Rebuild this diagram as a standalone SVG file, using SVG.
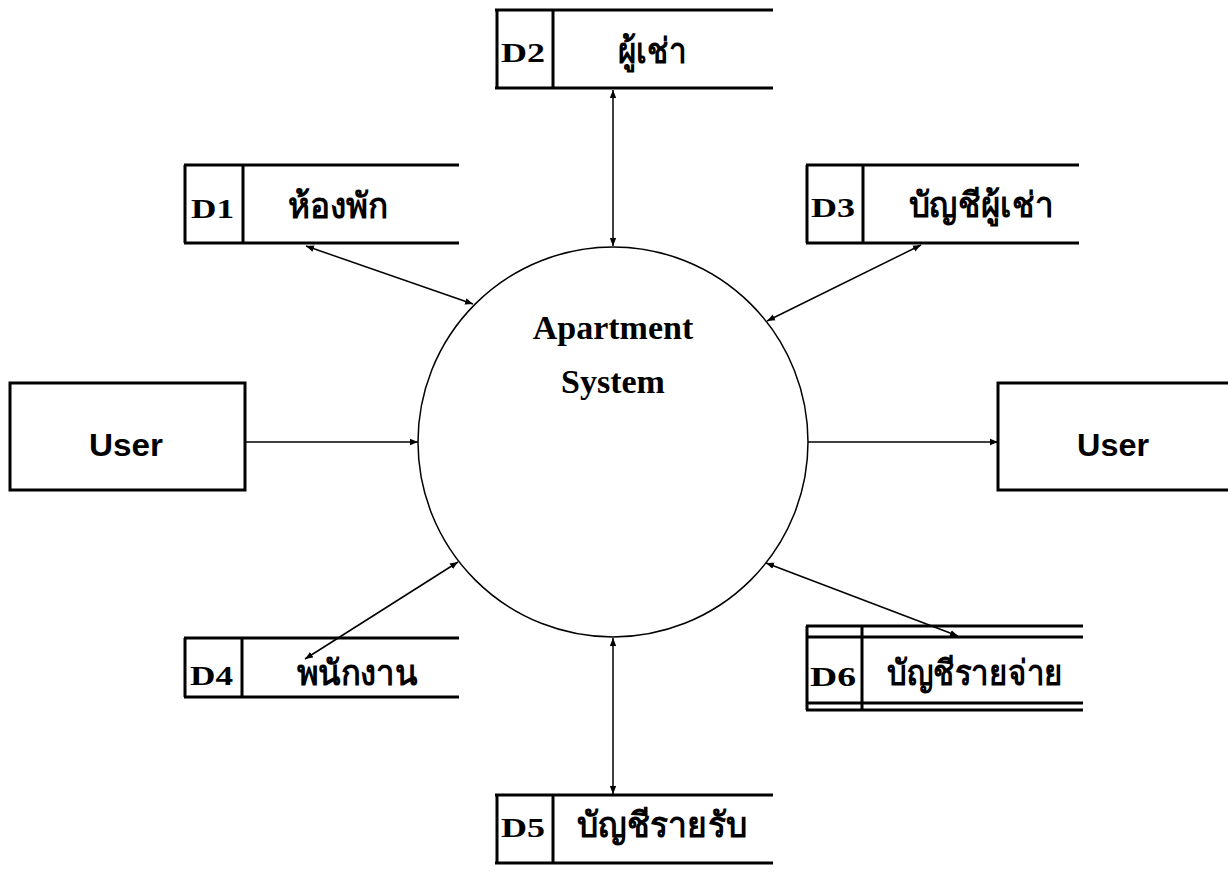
<svg xmlns="http://www.w3.org/2000/svg" width="1228" height="874" viewBox="0 0 1228 874">
<defs>
<marker id="ah" viewBox="0 0 10 10" refX="10" refY="5" markerWidth="8" markerHeight="8" markerUnits="userSpaceOnUse" orient="auto-start-reverse">
<path d="M0,1 L10,5 L0,9 Z" fill="#000"/>
</marker>
<style>
.st{fill:none;stroke:#000;stroke-width:3}
.ent{fill:#fff;stroke:#000;stroke-width:3}
.con{fill:none;stroke:#000;stroke-width:1.5}
.did{font-family:"Liberation Serif",serif;font-weight:bold;font-size:28px;fill:#000}
.th{font-family:"Liberation Serif","Noto Sans","DejaVu Sans",sans-serif;font-weight:bold;font-size:35px;fill:#000;text-anchor:middle}
.usr{font-family:"Liberation Sans",Arial,sans-serif;font-weight:bold;font-size:32px;fill:#000;text-anchor:middle}
.proc{font-family:"Liberation Serif",serif;font-weight:bold;font-size:34px;fill:#000;text-anchor:middle}
</style>
</defs>
<g id="connectors">
<line class="con" x1="613" y1="90" x2="613" y2="246" marker-start="url(#ah)" marker-end="url(#ah)"/>
<line class="con" x1="306" y1="246" x2="473" y2="304" marker-start="url(#ah)" marker-end="url(#ah)"/>
<line class="con" x1="921" y1="245" x2="767" y2="321" marker-start="url(#ah)" marker-end="url(#ah)"/>
<line class="con" x1="245" y1="442" x2="418" y2="442" marker-end="url(#ah)"/>
<line class="con" x1="808" y1="442" x2="998" y2="442" marker-end="url(#ah)"/>
<line class="con" x1="458" y1="562" x2="305" y2="659" marker-start="url(#ah)" marker-end="url(#ah)"/>
<line class="con" x1="766" y1="563" x2="958" y2="636" marker-start="url(#ah)" marker-end="url(#ah)"/>
<line class="con" x1="613" y1="638" x2="613" y2="794" marker-start="url(#ah)" marker-end="url(#ah)"/>
</g>
<g id="process">
<circle cx="613" cy="442" r="195" fill="none" stroke="#000" stroke-width="1.5"/>
<text class="proc" x="613" y="339">Apartment</text>
<text class="proc" x="613" y="393">System</text>
</g>
<g id="user-left">
<rect class="ent" x="10" y="383" width="235" height="107"/>
<text class="usr" x="126" y="456" textLength="74" lengthAdjust="spacingAndGlyphs">User</text>
</g>
<g id="user-right">
<rect class="ent" x="998" y="383" width="235" height="107"/>
<text class="usr" x="1113" y="456" textLength="72" lengthAdjust="spacingAndGlyphs">User</text>
</g>
<g id="d2">
<path class="st" d="M495,10 H773 M497,10 V88 M553,10 V88 M495,88 H773"/>
<text class="did" x="501" y="62" textLength="44" lengthAdjust="spacingAndGlyphs">D2</text>
<text class="th" x="652" y="63" textLength="69" lengthAdjust="spacingAndGlyphs">ผู้เช่า</text>
</g>
<g id="d1">
<path class="st" d="M184,165 H459 M185,165 V243 M243,165 V243 M184,243 H459"/>
<text class="did" x="191" y="218" textLength="43" lengthAdjust="spacingAndGlyphs">D1</text>
<text class="th" x="338" y="218" textLength="100" lengthAdjust="spacingAndGlyphs">ห้องพัก</text>
</g>
<g id="d3">
<path class="st" d="M806,165 H1079 M807,165 V243 M863,165 V243 M806,243 H1079"/>
<text class="did" x="811" y="217" textLength="44" lengthAdjust="spacingAndGlyphs">D3</text>
<text class="th" x="981" y="217" textLength="145" lengthAdjust="spacingAndGlyphs">บัญชีผู้เช่า</text>
</g>
<g id="d4">
<path class="st" d="M184,638 H459 M185,638 V697 M242,638 V697 M184,697 H459"/>
<text class="did" x="190" y="685" textLength="43" lengthAdjust="spacingAndGlyphs">D4</text>
<text class="th" x="357" y="685" textLength="121" lengthAdjust="spacingAndGlyphs">พนักงาน</text>
</g>
<g id="d5">
<path class="st" d="M495,795 H773 M497,795 V863 M553,795 V863 M495,863 H773"/>
<text class="did" x="501" y="837" textLength="44" lengthAdjust="spacingAndGlyphs">D5</text>
<text class="th" x="662" y="837" textLength="170" lengthAdjust="spacingAndGlyphs">บัญชีรายรับ</text>
</g>
<g id="d6">
<path class="st" d="M806,626 H1083 M808,637 H1083 M807,626 V710 M862,626 V710 M806,703 H1083 M806,710 H1083"/>
<text class="did" x="810" y="686" textLength="46" lengthAdjust="spacingAndGlyphs">D6</text>
<text class="th" x="975" y="685" textLength="176" lengthAdjust="spacingAndGlyphs">บัญชีรายจ่าย</text>
</g>
</svg>
